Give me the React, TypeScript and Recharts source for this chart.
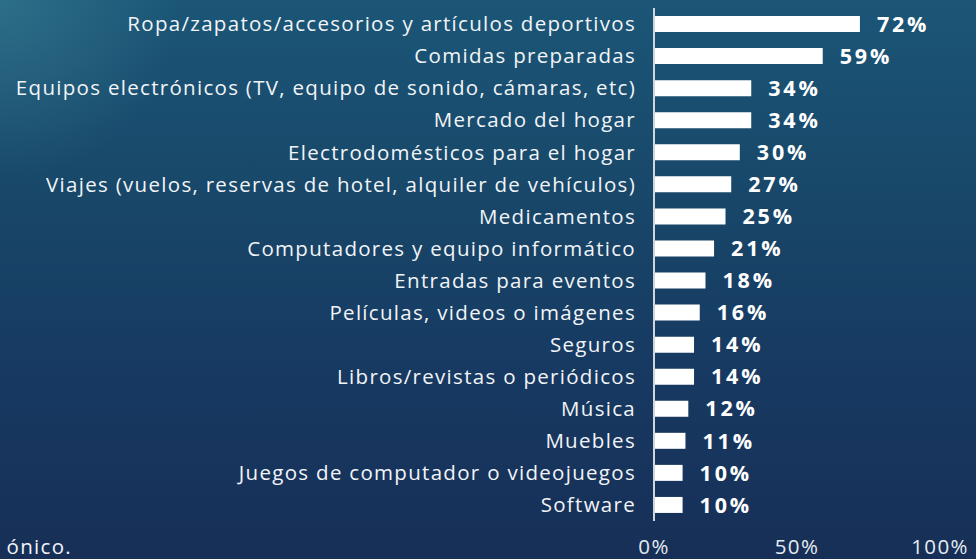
import React from "react";
import { BarChart, Bar, XAxis, YAxis } from "recharts";

const categories = [
  "Ropa/zapatos/accesorios y artículos deportivos",
  "Comidas preparadas",
  "Equipos electrónicos (TV, equipo de sonido, cámaras, etc)",
  "Mercado del hogar",
  "Electrodomésticos para el hogar",
  "Viajes (vuelos, reservas de hotel, alquiler de vehículos)",
  "Medicamentos",
  "Computadores y equipo informático",
  "Entradas para eventos",
  "Películas, videos o imágenes",
  "Seguros",
  "Libros/revistas o periódicos",
  "Música",
  "Muebles",
  "Juegos de computador o videojuegos",
  "Software",
];
const values = [72, 59, 34, 34, 30, 27, 25, 21, 18, 16, 14, 14, 12, 11, 10, 10];
const xTicks = [0, 50, 100];
const footnote = "ónico.";

const data = categories.map((name, i) => ({ name, value: values[i] }));

const FONT = "'Open Sans', Lato, sans-serif";
const FS = 20.5;
const LS = 1.3;

const renderValueLabel = (props: any) => {
  const { x, y, width, height, value } = props;
  return (
    <text
      x={Number(x) + Number(width) + 17}
      y={Number(y) + Number(height) / 2}
      dy="0.36em"
      fill="#ffffff"
      fontSize={21.5}
      fontWeight={700}
      fontFamily={FONT}
      letterSpacing={2.8}
    >
      {`${value}%`}
    </text>
  );
};

export default function App() {
  return (
    <div
      style={{
        position: "absolute",
        left: 0,
        top: 0,
        width: 976,
        height: 559,
        overflow: "hidden",
        background:
          "radial-gradient(circle at 0px 0px, rgba(60,130,150,0.55) 0px, rgba(40,100,130,0) 180px), linear-gradient(180deg, #1b5677 0%, #184769 35%, #173a62 65%, #172f57 100%)",
        fontFamily: FONT,
      }}
    >
      <BarChart
        width={976}
        height={559}
        data={data}
        layout="vertical"
        margin={{ top: 8, right: 36, bottom: 8, left: 0 }}
      >
        <XAxis
          type="number"
          domain={[0, 100]}
          ticks={xTicks}
          axisLine={false}
          tickLine={false}
          tickSize={0}
          tickMargin={18}
          height={30}
          tickFormatter={(v: number) => `${v}%`}
          tick={{ fill: "#e6ebf0", fontSize: FS, fontFamily: FONT, letterSpacing: LS }}
        />
        <YAxis
          type="category"
          dataKey="name"
          width={654}
          interval={0}
          axisLine={{ stroke: "#d0d6de", strokeWidth: 2 }}
          tickLine={false}
          tickSize={0}
          tickMargin={18}
          tick={{ fill: "#f2f4f7", fontSize: FS, fontFamily: FONT, letterSpacing: LS }}
        />
        <Bar
          dataKey="value"
          fill="#ffffff"
          barSize={16}
          isAnimationActive={false}
          label={renderValueLabel}
        />
      </BarChart>
      <div
        style={{
          position: "absolute",
          right: 976 - 72,
          top: 532,
          color: "#f2f4f7",
          fontSize: FS,
          letterSpacing: LS,
          lineHeight: "28px",
          whiteSpace: "nowrap",
          textAlign: "right",
          fontFamily: FONT,
        }}
      >
        {footnote}
      </div>
    </div>
  );
}
